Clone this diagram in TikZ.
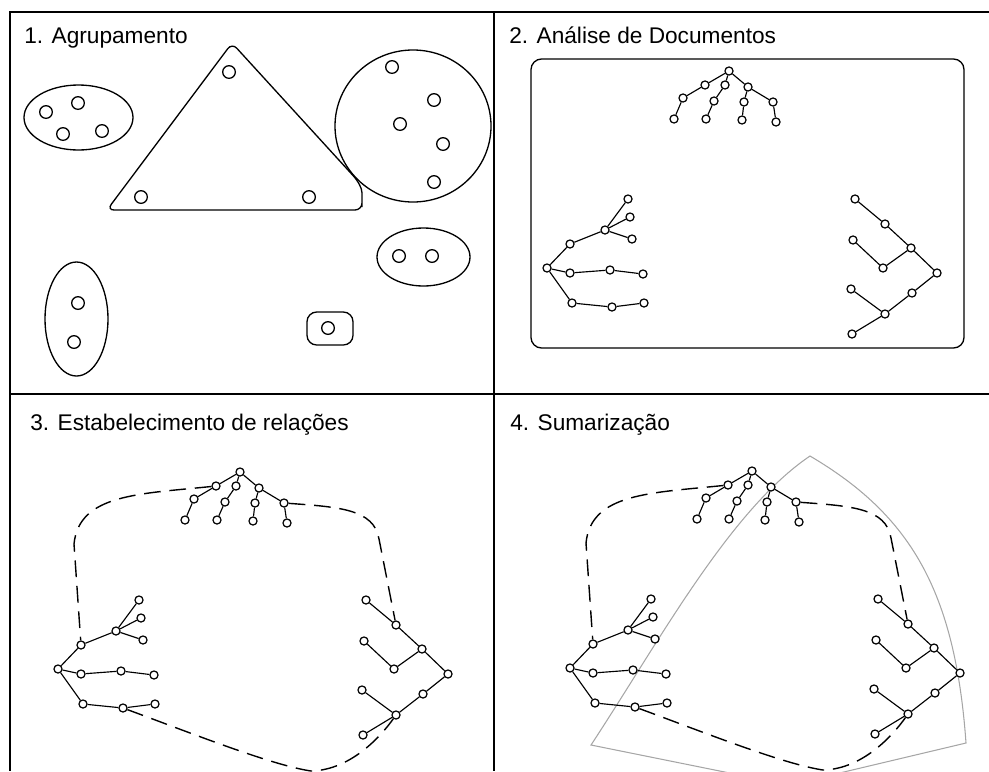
\documentclass[tikz,border=0pt]{standalone}
\usepackage{fontspec}
\setmainfont{Liberation Sans}

\newcommand*{\pw}{989}
\newcommand*{\ph}{771}
\newcommand*{\midx}{494}
\newcommand*{\midy}{394}

% the three document trees, nodes named #1t.., #1l.., #1r..
\newcommand*{\doctrees}[1]{%
	% top tree
	\foreach \n/\x/\y in {t0/729/71, t1/705/85, t2/725/85, t3/748/87, t4/683/98, t5/714/101,
		t6/744/102, t7/773/102, t8/674/119, t9/706/119, t10/742/120, t11/776/122}
		\node[treept] (#1\n) at (\x,\y) {};
	\foreach \a/\b in {t0/t1, t1/t4, t4/t8, t0/t2, t2/t5, t5/t9, t0/t3, t3/t6, t6/t10, t3/t7, t7/t11}
		\draw[treeline] (#1\a) -- (#1\b);
	% left tree
	\foreach \n/\x/\y in {l0/547/268, l1/570/244, l2/605/230, l3/628/199, l4/630/217, l5/632/239,
		l6/570/273, l7/610/270, l8/643/274, l9/572/303, l10/612/307, l11/644/303}
		\node[treept] (#1\n) at (\x,\y) {};
	\foreach \a/\b in {l0/l1, l1/l2, l2/l3, l2/l4, l2/l5, l0/l6, l6/l7, l7/l8, l0/l9, l9/l10, l10/l11}
		\draw[treeline] (#1\a) -- (#1\b);
	% right tree
	\foreach \n/\x/\y in {r0/855/199, r1/885/224, r2/911/248, r3/937/273, r4/853/240,
		r5/883/268, r6/912/293, r7/885/314, r8/851/289, r9/852/334}
		\node[treept] (#1\n) at (\x,\y) {};
	\foreach \a/\b in {r0/r1, r1/r2, r2/r3, r4/r5, r5/r2, r3/r6, r6/r7, r7/r9, r8/r7}
		\draw[treeline] (#1\a) -- (#1\b);
}

\begin{document}
\begin{tikzpicture}
[
	x=0.02cm, y=-0.02cm,
	docpt/.style={circle,draw,line width=0.75pt,inner sep=0pt,minimum size=7.2pt},
	treept/.style={circle,draw,fill=white,line width=0.7pt,inner sep=0pt,minimum size=4.6pt},
	panelline/.style={line width=0.9pt},
	outline/.style={line width=0.75pt},
	treeline/.style={line width=0.65pt},
	relline/.style={line width=0.8pt,dash pattern=on 9.5pt off 5pt},
	sumline/.style={black!35,line width=0.6pt},
	paneltitle/.style={anchor=base west,inner sep=0pt,font=\fontsize{12.9}{15}\selectfont}
]

	\clip (0,0) rectangle (\pw,\ph);

	% panels
	\draw[panelline] (\pw,12) -- (10,12) -- (10,\ph);
	\draw[panelline] (\midx,12) -- (\midx,\ph);
	\draw[panelline] (10,\midy) -- (\pw,\midy);

	\node[paneltitle] (title1) at (24,43) {1. Agrupamento};
	\node[paneltitle] (title2) at (509,43) {2. Análise de Documentos};
	\node[paneltitle] (title3) at (30,430) {3. Estabelecimento de relações};
	\node[paneltitle] (title4) at (510,430) {4. Sumarização};

	% 1: groups
	\draw[outline] (78.5,117.5) ellipse [x radius=54.5, y radius=32.5];
	\draw[outline, rounded corners=4pt] (362,200) -- (362,210) -- (107,210) -- (232,43) -- (348,170)
		.. controls (358,181) and (362,188) .. (362,200) -- cycle;
	\draw[outline] (413,126) ellipse [x radius=78, y radius=76];
	\draw[outline] (423.5,257) ellipse [x radius=46.5, y radius=29];
	\draw[outline] (76.5,319) ellipse [x radius=31.5, y radius=57];
	\draw[outline, rounded corners=5.5pt] (307,312) rectangle (353,345);

	\foreach \x/\y [count=\i] in {46/112, 78/103, 63/134, 102/131, 229/72, 141/197, 309/197,
		392/67, 434/100, 400/124, 443/144, 434/182, 399/256, 432/256, 78/303, 74/342, 328/328}
		\node[docpt] (doc\i) at (\x,\y) {};

	% 2: document trees
	\draw[outline, rounded corners=6pt] (531,59) rectangle (964,348);
	\doctrees{b}

	% 4: summary
	\draw[sumline] (810,456) .. controls (910,515) and (955,590) .. (966,743) -- (789,785)
		-- (591,745) .. controls (660,640) and (730,510) .. (810,456) -- cycle;

	% 3 and 4: relations
	\foreach \p/\sx/\sy in {c/-489/401, d/23/400}
	{
		\begin{scope}[shift={(\sx,\sy)}]
			\doctrees{\p}
			\draw[relline] (\p t1) .. controls (628,93) and (568,93) .. (563,143) -- (\p l1);
			\draw[relline] (\p t7) .. controls (828,106) and (863,108) .. (868,138) -- (\p r1);
			\draw[relline] (\p l10) .. controls (680,332) and (760,364) .. (800,370)
				.. controls (840,369) and (870,335) .. (\p r7);
		\end{scope}
	}

\end{tikzpicture}
\end{document}
